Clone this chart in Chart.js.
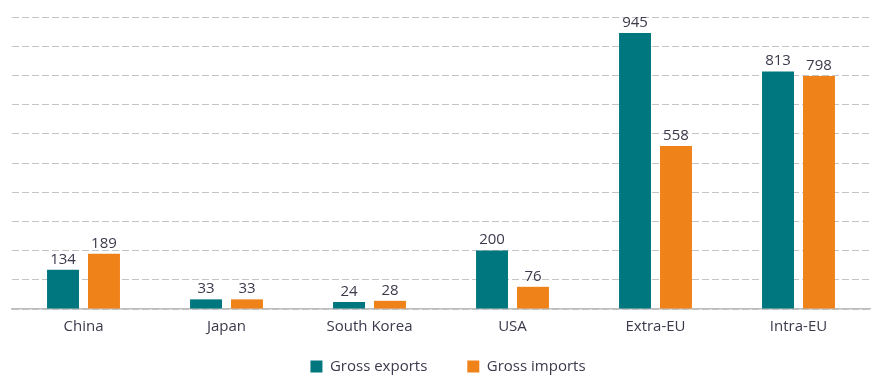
<!DOCTYPE html>
<html><head><meta charset="utf-8">
<script src="https://cdn.jsdelivr.net/npm/chart.js@4/dist/chart.umd.min.js"></script>
<style>html,body{margin:0;padding:0;background:#fff}#wrap{width:880px;height:381px}</style>
</head><body><div id="wrap"><canvas id="c" width="880" height="381"></canvas></div>
<script>
const categories = ["China", "Japan", "South Korea", "USA", "Extra-EU", "Intra-EU"];
const grossExports = [134, 33, 24, 200, 945, 813];
const grossImports = [189, 33, 28, 76, 558, 798];
const seriesNames = ["Gross exports", "Gross imports"];
const yMax = 1000, yStep = 100;

const FONT = "'Open Sans', 'Noto Sans', sans-serif";
const TXT = "#3a3a4c";

const labelPlugin = {
  id: 'vals',
  afterLayout(chart) {
    if (chart.legend) { chart.legend.left += 7; chart.legend.right += 7; }
  },
  afterDatasetsDraw(chart) {
    const ctx = chart.ctx;
    ctx.save();
    ctx.font = "15px " + FONT;
    ctx.fillStyle = TXT;
    ctx.textAlign = 'center';
    ctx.textBaseline = 'bottom';
    chart.data.datasets.forEach((ds, i) => {
      chart.getDatasetMeta(i).data.forEach((bar, j) => {
        ctx.fillText(String(ds.data[j]), bar.x, bar.y - 3);
      });
    });
    ctx.restore();
  }
};

new Chart(document.getElementById('c'), {
  type: 'bar',
  data: {
    labels: categories,
    datasets: [
      { label: seriesNames[0], data: grossExports, backgroundColor: '#00777f' },
      { label: seriesNames[1], data: grossImports, backgroundColor: '#f0821a' }
    ]
  },
  options: {
    responsive: false,
    animation: false,
    layout: { padding: { left: 12, right: 10, top: 17, bottom: -3 } },
    categoryPercentage: 0.573,
    barPercentage: 0.78,
    scales: {
      x: {
        grid: { display: false },
        border: { display: true, color: '#bdbdbd', width: 1.5 },
        ticks: { color: TXT, font: { family: FONT, size: 15 }, padding: 1 },
        afterFit(scale) {
          scale.height = 10;
          scale._computeLabelArea = () => null;
        }
      },
      y: {
        min: 0, max: yMax,
        ticks: { display: false, stepSize: yStep },
        border: { display: false, dash: [7, 3] },
        grid: { color: '#c4c4c4', lineWidth: 1, drawTicks: false }
      }
    },
    plugins: {
      legend: {
        position: 'bottom',
        labels: {
          color: TXT, font: { family: FONT, size: 15 },
          boxWidth: 12, boxHeight: 12, padding: 40
        }
      },
      tooltip: { enabled: false }
    }
  },
  plugins: [labelPlugin]
});
</script>
</body></html>
